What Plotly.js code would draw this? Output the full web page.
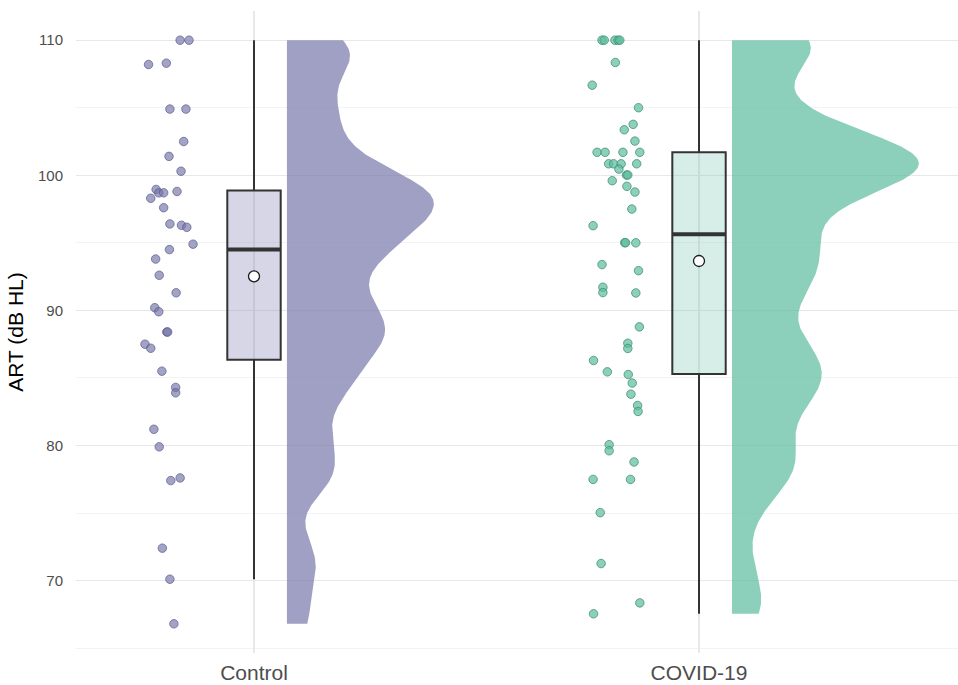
<!DOCTYPE html>
<html>
<head>
<meta charset="utf-8">
<script src="https://cdn.plot.ly/plotly-3.0.1.min.js"></script>
<style>html,body{margin:0;padding:0;background:#fff;}#chart{width:958px;height:685px;}</style>
</head>
<body>
<div id="chart"></div>
<script>
// ---- data ----
const categories = ['Control', 'COVID-19'];

const controlART = [110, 110, 108.2, 108.3, 104.9, 104.9, 102.5, 101.4, 100.3, 98.95,
  98.7, 98.7, 98.8, 98.3, 97.6, 96.4, 96.3, 96.15,
  94.9, 94.5, 93.8, 92.6, 91.3, 90.2, 89.9, 88.4, 88.4, 87.5, 87.2, 85.5, 84.3, 83.9, 81.2,
  79.9, 77.4, 77.6, 72.4, 70.1, 66.8];
const controlJitter = [-0.166, -0.146, -0.237, -0.197, -0.189, -0.153, -0.158, -0.191, -0.164, -0.220,
  -0.214, -0.203, -0.173, -0.232, -0.203, -0.189, -0.163, -0.151,
  -0.137, -0.190, -0.221, -0.213, -0.175, -0.223, -0.214, -0.196, -0.194, -0.245, -0.232, -0.207, -0.176, -0.176, -0.225,
  -0.213, -0.187, -0.166, -0.206, -0.189, -0.180];

const covidART = [110, 110, 110, 110, 110, 108.35, 106.67, 105.0, 103.77, 103.37, 102.53,
  101.7, 101.7, 101.7, 101.7, 100.85, 100.85, 100.85, 100.85, 100.46, 100.02, 100.02,
  99.6, 99.18, 98.76, 97.5, 96.27,
  95.01, 95.01, 95.0, 93.39, 92.94, 91.71, 91.32, 91.29, 88.78, 87.57, 87.18, 86.29,
  85.45, 85.25, 84.62, 83.80, 82.96, 82.52,
  80.06, 79.61, 78.78, 77.49, 77.49, 75.03, 71.26, 68.35, 67.54];
const covidJitter = [-0.218, -0.213, -0.189, -0.182, -0.178, -0.188, -0.240, -0.136, -0.148, -0.168, -0.144,
  -0.229, -0.211, -0.171, -0.133, -0.203, -0.192, -0.175, -0.140, -0.180, -0.163, -0.160,
  -0.195, -0.162, -0.144, -0.151, -0.238,
  -0.167, -0.165, -0.142, -0.218, -0.136, -0.216, -0.216, -0.142, -0.134, -0.160, -0.160, -0.237,
  -0.206, -0.159, -0.150, -0.153, -0.138, -0.137,
  -0.202, -0.202, -0.146, -0.238, -0.154, -0.222, -0.220, -0.133, -0.237];

const yTicks = [70, 80, 90, 100, 110];
const yTitle = 'ART (dB HL)';

// ---- styles ----
const groups = [
  {name: categories[0], y: controlART, jit: controlJitter, vioScale: 0.85,
   pt: 'rgba(119,119,171,0.68)', ptLine: 'rgba(90,90,140,0.7)',
   box: 'rgba(119,119,171,0.30)', vio: 'rgba(119,119,171,0.70)'},
  {name: categories[1], y: covidART, jit: covidJitter, vioScale: 1.0,
   pt: 'rgba(91,188,158,0.70)', ptLine: 'rgba(60,140,112,0.75)',
   box: 'rgba(91,188,158,0.25)', vio: 'rgba(91,188,158,0.70)'}
];
const bwAdjust = 0.45;

// ---- stats helpers ----
function quantile(arr, p) {
  const s = arr.slice().sort((a, b) => a - b);
  const h = (s.length - 1) * p, lo = Math.floor(h), hi = Math.ceil(h);
  return s[lo] + (h - lo) * (s[hi] - s[lo]);
}
function mean(a) { return a.reduce((s, v) => s + v, 0) / a.length; }
function sd(a) { const m = mean(a); return Math.sqrt(a.reduce((s, v) => s + (v - m) * (v - m), 0) / (a.length - 1)); }
function bwNrd0(a) {
  const iqr = quantile(a, 0.75) - quantile(a, 0.25);
  const lo = Math.min(sd(a), iqr / 1.34);
  return 0.9 * lo * Math.pow(a.length, -0.2);
}
function kde(a, n) {
  const bw = bwNrd0(a) * bwAdjust;
  const mn = Math.min(...a), mx = Math.max(...a);
  const ys = [], ds = [];
  for (let i = 0; i < n; i++) {
    const y = mn + (mx - mn) * i / (n - 1);
    let d = 0;
    for (const v of a) { const z = (y - v) / bw; d += Math.exp(-0.5 * z * z); }
    ys.push(y); ds.push(d / (a.length * bw * Math.sqrt(2 * Math.PI)));
  }
  return {ys, ds};
}
function boxStats(a) {
  const q1 = quantile(a, 0.25), med = quantile(a, 0.5), q3 = quantile(a, 0.75);
  const iqr = q3 - q1;
  const lf = Math.min(...a.filter(v => v >= q1 - 1.5 * iqr));
  const uf = Math.max(...a.filter(v => v <= q3 + 1.5 * iqr));
  return {q1, med, q3, lf, uf};
}

const dens = groups.map(g => kde(g.y, 512));
const globalMax = Math.max(...dens.map(d => Math.max(...d.ds)));
const vioOffset = 0.074, vioMaxHalf = 0.42, boxWidth = 0.12;

const traces = [];
groups.forEach((g, i) => {
  const xc = i + 1;
  // half violin
  const d = dens[i];
  const base = xc + vioOffset;
  const vx = d.ds.map(v => base + v / globalMax * vioMaxHalf * g.vioScale).concat([base, base]);
  const vy = d.ys.slice().concat([d.ys[d.ys.length - 1], d.ys[0]]);
  traces.push({type: 'scatter', mode: 'lines', x: vx, y: vy, fill: 'toself',
    fillcolor: g.vio, line: {width: 0}, hoverinfo: 'skip', showlegend: false});
  // jittered points
  traces.push({type: 'scatter', mode: 'markers', x: g.jit.map(j => xc + j), y: g.y,
    marker: {size: 8.5, color: g.pt, line: {color: g.ptLine, width: 1}},
    showlegend: false, hoverinfo: 'y'});
  // box (Tukey whiskers, outliers hidden)
  const st = boxStats(g.y);
  traces.push({type: 'box', x: [xc], q1: [st.q1], median: [st.med], q3: [st.q3],
    lowerfence: [st.lf], upperfence: [st.uf], name: g.name, boxpoints: false, width: boxWidth,
    whiskerwidth: 0, fillcolor: g.box, line: {color: '#333333', width: 2},
    showlegend: false, hoverinfo: 'skip'});
  // thicker median line
  traces.push({type: 'scatter', mode: 'lines', x: [xc - boxWidth / 2, xc + boxWidth / 2], y: [st.med, st.med],
    line: {color: '#333333', width: 4}, showlegend: false, hoverinfo: 'skip'});
  // mean
  traces.push({type: 'scatter', mode: 'markers', x: [xc], y: [mean(g.y)],
    marker: {size: 11, color: '#ffffff', line: {color: '#1a1a1a', width: 1.3}},
    showlegend: false, hoverinfo: 'y'});
});

const layout = {
  width: 958, height: 685,
  margin: {l: 76, r: 0, t: 11, b: 32},
  paper_bgcolor: '#ffffff', plot_bgcolor: '#ffffff',
  font: {family: 'Liberation Sans, Arial, sans-serif', color: '#4d4d4d'},
  showlegend: false,
  xaxis: {range: [0.6, 2.582], tickvals: [1, 2], ticktext: categories,
    showgrid: true, gridcolor: '#e8e8e8', gridwidth: 1.2, zeroline: false, showline: false,
    ticks: 'outside', ticklen: 1, tickcolor: 'rgba(0,0,0,0)',
    tickfont: {size: 21, color: '#4d4d4d'}},
  yaxis: {range: [64.64, 112.16], tickvals: yTicks, ticktext: yTicks.map(String),
    showgrid: true, gridcolor: '#e8e8e8', gridwidth: 1.2, zeroline: false, showline: false,
    ticks: 'outside', ticklen: 9, tickcolor: 'rgba(0,0,0,0)',
    tickfont: {size: 15, color: '#4d4d4d'},
    minor: {dtick: 5, tick0: 65, showgrid: true, gridcolor: '#f0f0f0', gridwidth: 0.8},
    title: {text: yTitle, font: {size: 21, color: '#000000'}, standoff: 8}}
};

Plotly.newPlot('chart', traces, layout, {displayModeBar: false, staticPlot: true});
</script>
</body>
</html>
